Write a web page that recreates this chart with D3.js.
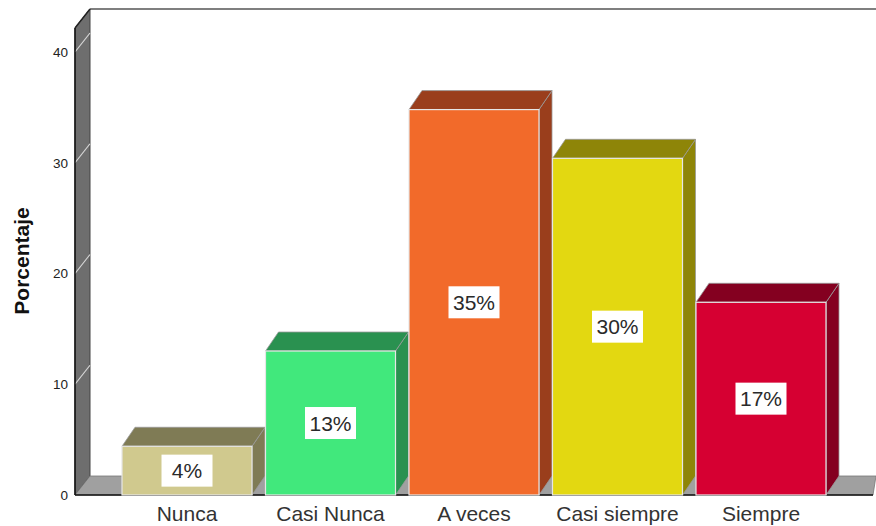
<!DOCTYPE html>
<html>
<head>
<meta charset="utf-8">
<script src="https://cdn.jsdelivr.net/npm/d3@7"></script>
<style>
  body { margin: 0; background: #fff; }
  text { font-family: "Liberation Sans", Arial, sans-serif; }
</style>
</head>
<body>
<div id="chart"></div>
<script>
var categories = ["Nunca", "Casi Nunca", "A veces", "Casi siempre", "Siempre"];
var values = [4.4, 13.0, 34.8, 30.4, 17.4];
var labels = ["4%", "13%", "35%", "30%", "17%"];
var frontColors = ["#d0c98e", "#41e87c", "#f26a2a", "#e3d811", "#d60032"];
var topColors = ["#7f7b55", "#2a9150", "#9a3e1c", "#8e8508", "#840020"];
var yTicks = [0, 10, 20, 30, 40];

var svgWidth = 876;
var svgHeight = 526;

var margin = { top: 28, right: 3, left: 75, bottom: 31 };

var depthX = 15;
var depthY = -19;

var svg = d3.select("#chart")
    .append("svg")
        .attr("width", svgWidth)
        .attr("height", svgHeight);

var baseY = svgHeight - margin.bottom;

var yScale = d3.scaleLinear()
    .domain([0, 40])
    .range([baseY, 52]);

var yTop = yScale.invert(margin.top);

var xScale = d3.scaleBand()
    .domain(categories)
    .range([122, 826])
    .paddingInner(0.094)
    .paddingOuter(0);

var x0 = margin.left;
var xEnd = svgWidth - margin.right;

// back wall outline
svg.append("line")
    .attr("x1", x0 + depthX).attr("y1", yScale(yTop) + depthY)
    .attr("x2", svgWidth).attr("y2", yScale(yTop) + depthY)
    .attr("stroke", "#555").attr("stroke-width", 1.5);

// left wall
svg.append("polygon")
    .attr("points", [
        [x0, yScale(0)], [x0, yScale(yTop)],
        [x0 + depthX, yScale(yTop) + depthY], [x0 + depthX, yScale(0) + depthY]
    ].map(function (p) { return p.join(","); }).join(" "))
    .attr("fill", "#6e6e6e")
    .attr("stroke", "#444").attr("stroke-width", 1);

svg.append("line")
    .attr("x1", x0).attr("y1", yScale(yTop))
    .attr("x2", x0 + depthX).attr("y2", yScale(yTop) + depthY)
    .attr("stroke", "#222").attr("stroke-width", 1.5);

// wall grid lines
svg.selectAll(".wallgrid")
    .data(yTicks.slice(1))
    .enter()
    .append("line")
        .attr("x1", x0).attr("y1", function (d) { return yScale(d); })
        .attr("x2", x0 + depthX).attr("y2", function (d) { return yScale(d) + depthY; })
        .attr("stroke", "#d8d8d8").attr("stroke-width", 1.2);

// floor
svg.append("polygon")
    .attr("points", [
        [x0, yScale(0)], [x0 + depthX, yScale(0) + depthY],
        [svgWidth, yScale(0) + depthY], [xEnd, yScale(0)]
    ].map(function (p) { return p.join(","); }).join(" "))
    .attr("fill", "#a0a0a0")
    .attr("stroke", "#777").attr("stroke-width", 0.8);

svg.append("line")
    .attr("x1", x0).attr("y1", yScale(0))
    .attr("x2", xEnd).attr("y2", yScale(0))
    .attr("stroke", "#111").attr("stroke-width", 1.5);

svg.append("line")
    .attr("x1", x0).attr("y1", yScale(0))
    .attr("x2", x0).attr("y2", yScale(yTop))
    .attr("stroke", "#111").attr("stroke-width", 1.5);

// y axis labels
var yAxis = d3.axisLeft(yScale)
    .tickValues(yTicks)
    .tickSize(0)
    .tickPadding(7);

var yAxisG = svg.append("g")
    .attr("transform", `translate(${x0}, 0)`)
    .call(yAxis);
yAxisG.select(".domain").remove();
yAxisG.selectAll("text")
    .attr("font-size", 13.5)
    .attr("fill", "#222")
    .style("font-family", "'Liberation Sans', Arial, sans-serif");

svg.append("text")
    .attr("transform", "translate(29, 261) rotate(-90)")
    .attr("text-anchor", "middle")
    .attr("font-size", 21)
    .attr("font-weight", "bold")
    .attr("fill", "#111")
    .text("Porcentaje");

// bars
var bw = xScale.bandwidth();
var bdx = 13;
var bdy = -19;

var bars = svg.selectAll(".bar")
    .data(categories)
    .enter()
    .append("g")
        .attr("class", "bar");

bars.append("polygon")
    .attr("points", function (d, i) {
        var x = xScale(d), y = yScale(values[i]);
        return [[x + bw, y], [x + bw + bdx, y + bdy], [x + bw + bdx, yScale(0) + bdy], [x + bw, yScale(0)]]
            .map(function (p) { return p.join(","); }).join(" ");
    })
    .attr("fill", function (d, i) { return topColors[i]; })
    .attr("stroke", "#999").attr("stroke-width", 0.8);

bars.append("polygon")
    .attr("points", function (d, i) {
        var x = xScale(d), y = yScale(values[i]);
        return [[x, y], [x + bdx, y + bdy], [x + bw + bdx, y + bdy], [x + bw, y]]
            .map(function (p) { return p.join(","); }).join(" ");
    })
    .attr("fill", function (d, i) { return topColors[i]; })
    .attr("stroke", "#999").attr("stroke-width", 0.8);

bars.append("rect")
    .attr("x", function (d) { return xScale(d); })
    .attr("y", function (d, i) { return yScale(values[i]); })
    .attr("width", bw)
    .attr("height", function (d, i) { return yScale(0) - yScale(values[i]); })
    .attr("fill", function (d, i) { return frontColors[i]; })
    .attr("stroke", "#e6e6e6").attr("stroke-width", 1.2);

// value label boxes
var boxW = 51, boxH = 32;
bars.append("rect")
    .attr("x", function (d) { return xScale(d) + bw / 2 - boxW / 2; })
    .attr("y", function (d, i) { return yScale(values[i] / 2) - boxH / 2; })
    .attr("width", boxW)
    .attr("height", boxH)
    .attr("fill", "#fff");

bars.append("text")
    .attr("x", function (d) { return xScale(d) + bw / 2; })
    .attr("y", function (d, i) { return yScale(values[i] / 2) + 7.5; })
    .attr("text-anchor", "middle")
    .attr("font-size", 21)
    .attr("fill", "#2a2a2a")
    .text(function (d, i) { return labels[i]; });

// category labels
var xAxis = d3.axisBottom(xScale)
    .tickSize(0)
    .tickPadding(11);

var xAxisG = svg.append("g")
    .attr("transform", `translate(0, ${yScale(0)})`)
    .call(xAxis);
xAxisG.select(".domain").remove();
xAxisG.selectAll("text")
    .attr("font-size", 21)
    .attr("fill", "#333")
    .style("font-family", "'Liberation Sans', Arial, sans-serif");
</script>
</body>
</html>
